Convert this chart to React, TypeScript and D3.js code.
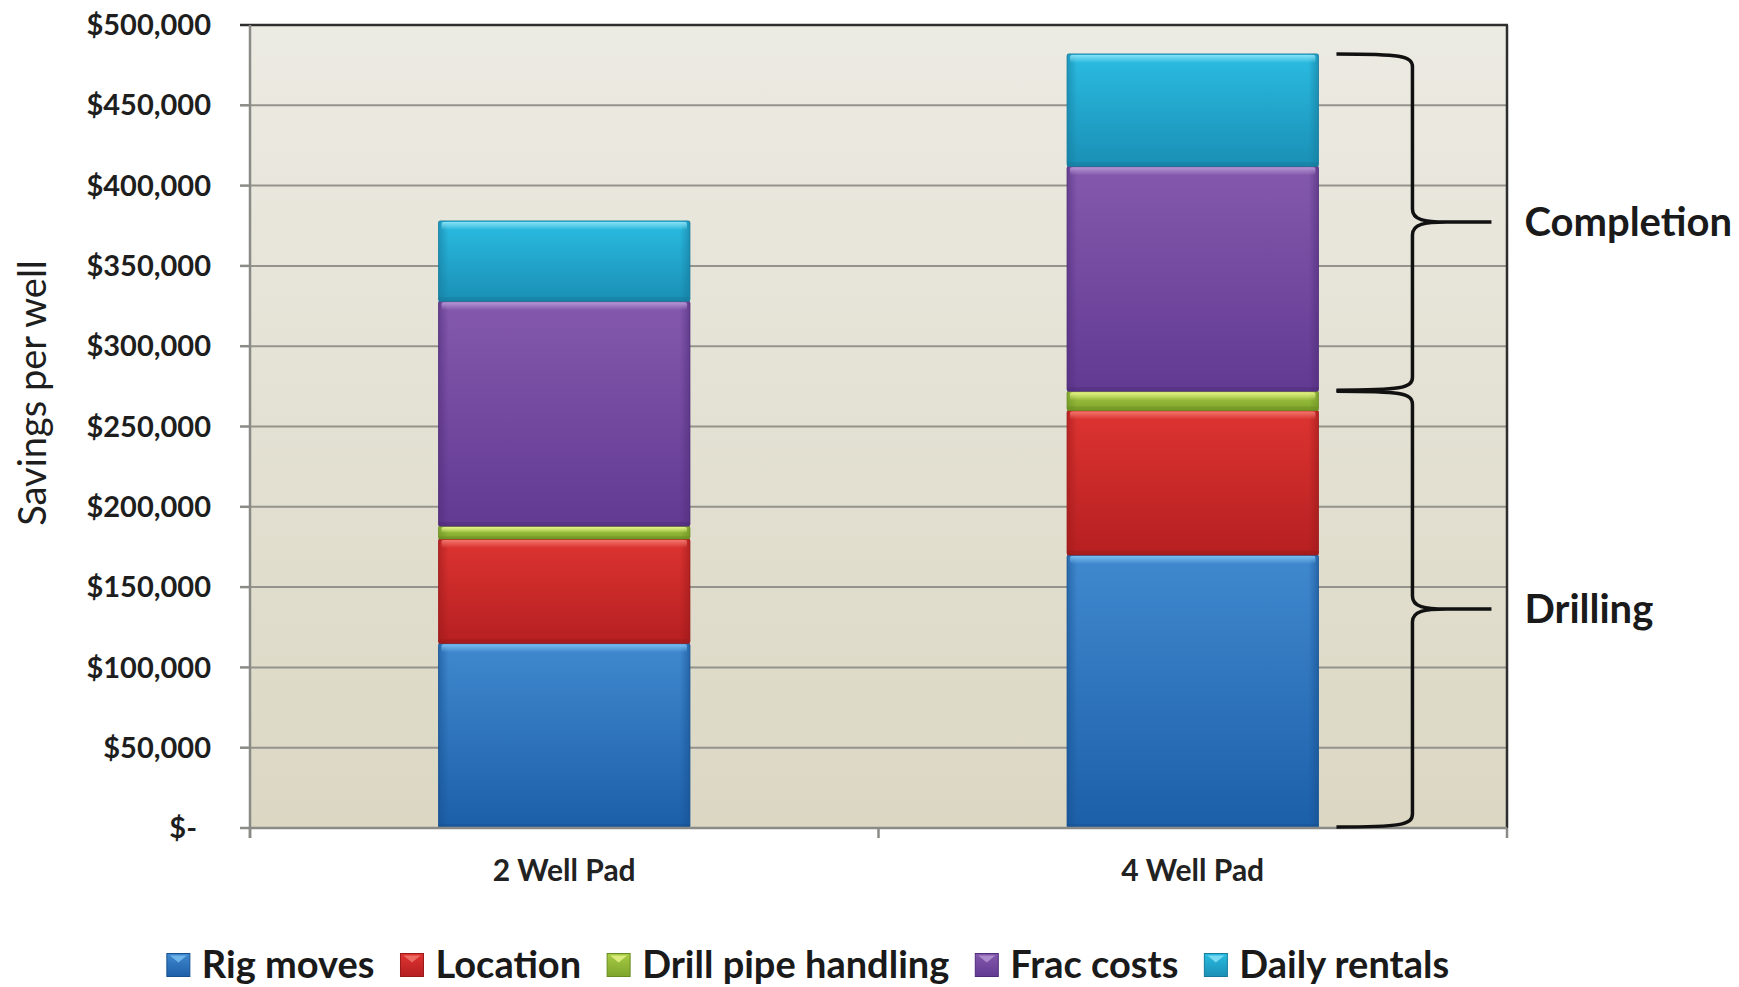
import React, { useEffect, useRef } from "react";
import * as d3 from "d3";

const categories = ["2 Well Pad", "4 Well Pad"];
const seriesNames = ["Rig moves", "Location", "Drill pipe handling", "Frac costs", "Daily rentals"];
const rigMoves = [115000, 170000];
const locationCost = [65000, 90000];
const drillPipeHandling = [8000, 12000];
const fracCosts = [140000, 140000];
const dailyRentals = [50000, 70000];
const yTicks = [0, 50000, 100000, 150000, 200000, 250000, 300000, 350000, 400000, 450000, 500000];
const braceGroups = [
  { label: "Drilling", fromSeries: 0, toSeries: 3 },
  { label: "Completion", fromSeries: 3, toSeries: 5 },
];
const yTitle = "Savings per well";

const palette = [
  { top: "#4089cf", bottom: "#1c5fa9", hi: "#7cc0f2", edge: "#17508f" },
  { top: "#dd3431", bottom: "#b61f21", hi: "#f47a72", edge: "#9a1a1a" },
  { top: "#a7cc45", bottom: "#7ea42c", hi: "#e8f58a", edge: "#6a8d22" },
  { top: "#8459ad", bottom: "#623a92", hi: "#b89ad6", edge: "#4f2c7a" },
  { top: "#2bbce2", bottom: "#1a8fb5", hi: "#8de3f7", edge: "#157a9c" },
];

const W = 1739;
const H = 987;
const FONT = "Lato, 'Open Sans', 'DejaVu Sans', sans-serif";

export default function App() {
  const ref = useRef<SVGSVGElement | null>(null);

  useEffect(() => {
    document.body.style.margin = "0";
    const svg = d3.select(ref.current);
    svg.selectAll("*").remove();

    const plot = { left: 250, top: 25, right: 1507, bottom: 828 };
    const x = d3.scaleBand<string>().domain(categories).range([plot.left, plot.right]).paddingInner(0.6).paddingOuter(0.3);
    const y = d3.scaleLinear().domain([0, 500000]).range([plot.bottom, plot.top]);

    const rows = categories.map((c, i) => ({
      category: c,
      "Rig moves": rigMoves[i],
      Location: locationCost[i],
      "Drill pipe handling": drillPipeHandling[i],
      "Frac costs": fracCosts[i],
      "Daily rentals": dailyRentals[i],
    }));
    const stack = d3.stack<any>().keys(seriesNames)(rows);

    const defs = svg.append("defs");
    const bg = defs.append("linearGradient").attr("id", "bg").attr("x1", 0).attr("y1", 0).attr("x2", 0).attr("y2", 1);
    bg.append("stop").attr("offset", "0%").attr("stop-color", "#ecebe3");
    bg.append("stop").attr("offset", "100%").attr("stop-color", "#dbd7c3");
    palette.forEach((p, i) => {
      const g = defs.append("linearGradient").attr("id", `g${i}`).attr("x1", 0).attr("y1", 0).attr("x2", 0).attr("y2", 1);
      g.append("stop").attr("offset", "0%").attr("stop-color", p.top);
      g.append("stop").attr("offset", "100%").attr("stop-color", p.bottom);
      const h = defs.append("linearGradient").attr("id", `h${i}`).attr("x1", 0).attr("y1", 0).attr("x2", 0).attr("y2", 1);
      h.append("stop").attr("offset", "0%").attr("stop-color", p.hi).attr("stop-opacity", 0.95);
      h.append("stop").attr("offset", "100%").attr("stop-color", p.hi).attr("stop-opacity", 0);
      const s = defs.append("linearGradient").attr("id", `s${i}`).attr("x1", 0).attr("y1", 0).attr("x2", 1).attr("y2", 0);
      s.append("stop").attr("offset", "0%").attr("stop-color", p.edge).attr("stop-opacity", 0.55);
      s.append("stop").attr("offset", "4%").attr("stop-color", p.edge).attr("stop-opacity", 0);
      s.append("stop").attr("offset", "96%").attr("stop-color", p.edge).attr("stop-opacity", 0);
      s.append("stop").attr("offset", "100%").attr("stop-color", p.edge).attr("stop-opacity", 0.6);
    });

    svg.append("rect").attr("width", W).attr("height", H).attr("fill", "#ffffff");

    // plot area
    svg.append("rect")
      .attr("x", plot.left).attr("y", plot.top)
      .attr("width", plot.right - plot.left).attr("height", plot.bottom - plot.top)
      .attr("fill", "url(#bg)");

    // gridlines
    svg.append("g").selectAll("line").data(yTicks.filter((t) => t > 0 && t < 500000)).join("line")
      .attr("x1", plot.left).attr("x2", plot.right)
      .attr("y1", (d) => y(d)).attr("y2", (d) => y(d))
      .attr("stroke", "#94938c").attr("stroke-width", 2);

    // bars
    stack.forEach((layer, si) => {
      const g = svg.append("g");
      layer.forEach((d: any) => {
        const bx = x(d.data.category)!;
        const bw = x.bandwidth();
        const y0 = y(d[1]);
        const h = y(d[0]) - y(d[1]);
        g.append("rect").attr("x", bx).attr("y", y0).attr("width", bw).attr("height", h)
          .attr("rx", 2).attr("fill", `url(#g${si})`).attr("stroke", palette[si].edge).attr("stroke-width", 0.8);
        g.append("rect").attr("x", bx).attr("y", y0).attr("width", bw).attr("height", h)
          .attr("fill", `url(#s${si})`);
        const hh = Math.min(8, h * 0.45);
        g.append("rect").attr("x", bx + 3).attr("y", y0 + 1).attr("width", bw - 6).attr("height", hh)
          .attr("rx", 2).attr("fill", `url(#h${si})`);
        const sh = Math.min(4, h * 0.2);
        g.append("rect").attr("x", bx).attr("y", y0 + h - sh).attr("width", bw).attr("height", sh)
          .attr("fill", palette[si].edge).attr("opacity", 0.5);
      });
    });

    // frame
    svg.append("line").attr("x1", plot.left - 10).attr("x2", plot.right + 1).attr("y1", plot.top).attr("y2", plot.top)
      .attr("stroke", "#2e2e2e").attr("stroke-width", 2.5);
    svg.append("line").attr("x1", plot.right).attr("x2", plot.right).attr("y1", plot.top).attr("y2", plot.bottom)
      .attr("stroke", "#2e2e2e").attr("stroke-width", 2.5);
    svg.append("line").attr("x1", plot.left).attr("x2", plot.left).attr("y1", plot.top).attr("y2", plot.bottom + 10)
      .attr("stroke", "#8a8a86").attr("stroke-width", 2.5);
    svg.append("line").attr("x1", plot.left - 10).attr("x2", plot.right).attr("y1", plot.bottom).attr("y2", plot.bottom)
      .attr("stroke", "#8a8a86").attr("stroke-width", 2.5);

    // y ticks
    svg.append("g").selectAll("line").data(yTicks.filter((t) => t > 0 && t < 500000)).join("line")
      .attr("x1", plot.left - 10).attr("x2", plot.left)
      .attr("y1", (d) => y(d)).attr("y2", (d) => y(d))
      .attr("stroke", "#8a8a86").attr("stroke-width", 2.5);
    const fmt = d3.format(",");
    svg.append("g").selectAll("text").data(yTicks).join("text")
      .attr("x", (d) => (d === 0 ? plot.left - 53 : plot.left - 39))
      .attr("y", (d) => y(d))
      .attr("dy", "0.35em")
      .attr("text-anchor", "end")
      .attr("font-family", FONT).attr("font-weight", 700).attr("font-size", 29)
      .attr("fill", "#1e1e1e")
      .text((d) => (d === 0 ? "$-" : "$" + fmt(d)));

    // x ticks
    const xTickPos = [plot.left, ...categories.slice(1).map((c) => x(c)! - (x.step() * x.paddingInner()) / 2), plot.right];
    svg.append("g").selectAll("line").data(xTickPos).join("line")
      .attr("x1", (d) => d).attr("x2", (d) => d).attr("y1", plot.bottom).attr("y2", plot.bottom + 10)
      .attr("stroke", "#8a8a86").attr("stroke-width", 2.5);
    svg.append("g").selectAll("text").data(categories).join("text")
      .attr("x", (d) => x(d)! + x.bandwidth() / 2)
      .attr("y", plot.bottom + 42)
      .attr("dy", "0.35em")
      .attr("text-anchor", "middle")
      .attr("font-family", FONT).attr("font-weight", 700).attr("font-size", 30)
      .attr("fill", "#222")
      .text((d) => d);

    // y title
    svg.append("text")
      .attr("transform", `translate(33, 393) rotate(-90)`)
      .attr("dy", "0.35em")
      .attr("text-anchor", "middle")
      .attr("font-family", FONT).attr("font-weight", 400).attr("font-size", 38)
      .attr("fill", "#1e1e1e")
      .text(yTitle);

    // braces on last category
    const lastCat = categories[categories.length - 1];
    const barRight = x(lastCat)! + x.bandwidth();
    const x0 = barRight + 18;
    const x1 = barRight + 94;
    const x2 = barRight + 173;
    const lastIdx = categories.length - 1;
    braceGroups.forEach((bgp) => {
      const vFrom = bgp.fromSeries === 0 ? 0 : stack[bgp.fromSeries - 1][lastIdx][1];
      const vTo = stack[bgp.toSeries - 1][lastIdx][1];
      const yBot = y(vFrom) - 1;
      const yTop = y(vTo);
      const yMid = (yTop + yBot) / 2;
      const r = 13;
      const p = d3.path();
      p.moveTo(x0, yTop);
      p.bezierCurveTo(x1 - 12, yTop, x1, yTop + 2, x1, yTop + r);
      p.lineTo(x1, yMid - r);
      p.bezierCurveTo(x1, yMid - 2, x1 + 12, yMid, x1 + 34, yMid);
      p.lineTo(x2, yMid);
      p.moveTo(x1 + 34, yMid);
      p.bezierCurveTo(x1 + 12, yMid, x1, yMid + 2, x1, yMid + r);
      p.lineTo(x1, yBot - r);
      p.bezierCurveTo(x1, yBot - 2, x1 - 12, yBot, x0, yBot);
      svg.append("path").attr("d", p.toString()).attr("fill", "none")
        .attr("stroke", "#111").attr("stroke-width", 3.5).attr("stroke-linejoin", "round");
      svg.append("text")
        .attr("x", x2 + 33).attr("y", yMid).attr("dy", "0.35em")
        .attr("font-family", FONT).attr("font-weight", 700).attr("font-size", 40)
        .attr("fill", "#1a1a1a")
        .text(bgp.label);
    });

    // legend
    const legend = svg.append("g");
    const sw = 23;
    const items = seriesNames.map((name, i) => {
      const g = legend.append("g");
      g.append("rect").attr("x", 0).attr("y", -sw / 2).attr("width", sw).attr("height", sw).attr("fill", `url(#g${i})`)
        .attr("stroke", palette[i].edge).attr("stroke-width", 1);
      g.append("path").attr("d", `M3,${-sw / 2 + 2} L${sw - 3},${-sw / 2 + 2} L${sw / 2},${-sw / 2 + 9} Z`)
        .attr("fill", palette[i].hi).attr("opacity", 0.8);
      const t = g.append("text").attr("x", sw + 12).attr("dy", "0.35em")
        .attr("font-family", FONT).attr("font-weight", 700).attr("font-size", 38)
        .attr("fill", "#1a1a1a").text(name);
      const tw = (t.node() as SVGTextElement).getComputedTextLength();
      return { g, w: sw + 12 + tw };
    });
    const gap = 26;
    const total = d3.sum(items, (d) => d.w) + gap * (items.length - 1);
    let cx = 808 - total / 2;
    items.forEach((it) => {
      it.g.attr("transform", `translate(${cx}, 965)`);
      cx += it.w + gap;
    });
  }, []);

  return <svg ref={ref} width={W} height={H} style={{ display: "block" }} />;
}
